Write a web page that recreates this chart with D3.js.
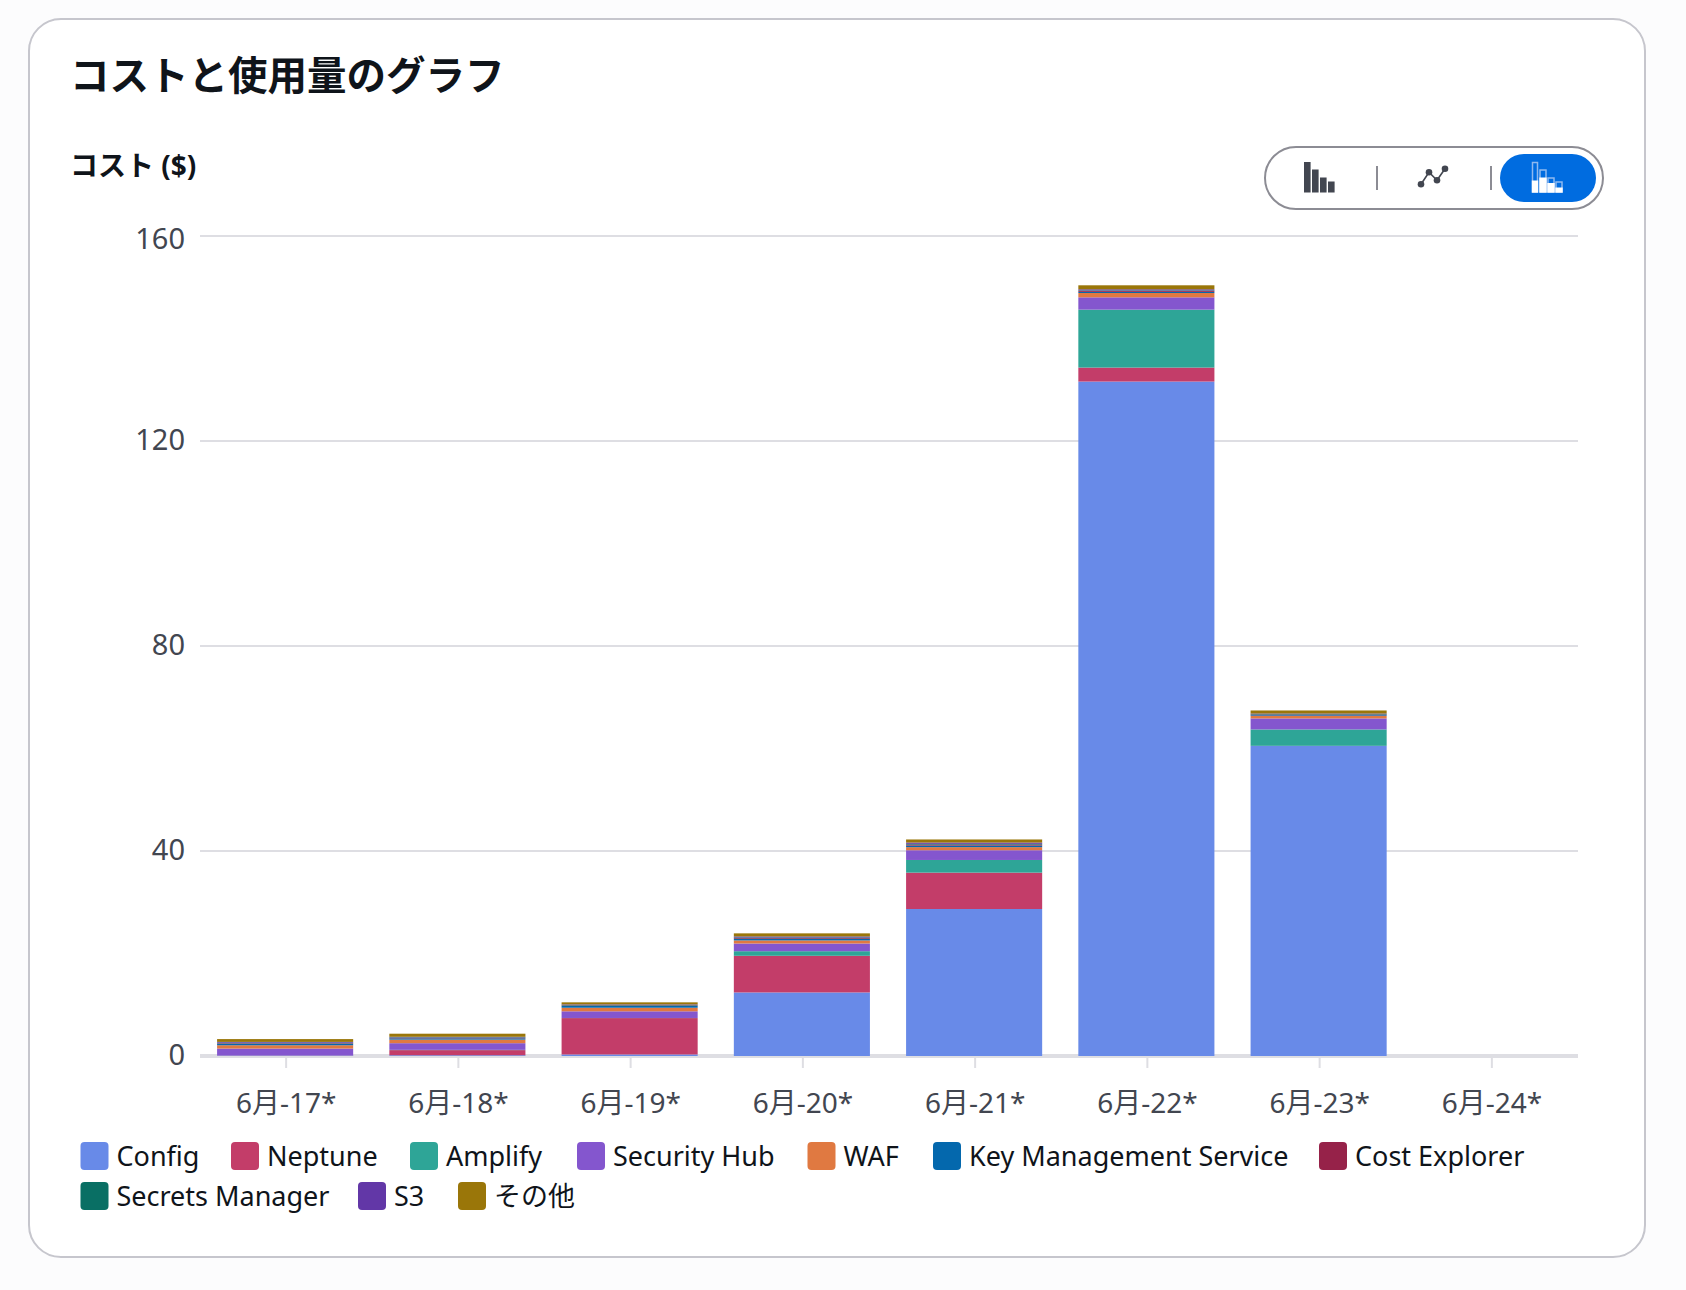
<!DOCTYPE html>
<html lang="ja">
<head>
<meta charset="utf-8">
<title>コストと使用量のグラフ</title>
<script src="https://cdn.jsdelivr.net/npm/d3@7"></script>
<style>
  html, body { margin: 0; padding: 0; background: #fcfcfd; }
  svg, svg text { font-family: "Noto Sans", "Noto Sans CJK JP", sans-serif; }
  svg { display: block; }
</style>
</head>
<body>
<svg id="chart" width="1686" height="1290"></svg>
<script>
// Daily cost per service, in dollars
const days = ["6月-17*", "6月-18*", "6月-19*", "6月-20*", "6月-21*", "6月-22*", "6月-23*", "6月-24*"];
const serviceNames = ["Config", "Neptune", "Amplify", "Security Hub", "WAF", "Key Management Service", "Cost Explorer", "Secrets Manager", "S3", "その他"];
const serviceColors = ["#688ae8", "#c33d69", "#2ea597", "#8456ce", "#e07941", "#0468ad", "#962249", "#096f64", "#6237a7", "#9a7609"];

const config = [0.05, 0.15, 0.3, 12.4, 28.68, 131.6, 60.5, 0];
const neptune = [0.02, 1.0, 7.1, 7.15, 7.1, 2.73, 0.02, 0];
const amplify = [0.02, 0.05, 0.02, 0.9, 2.47, 11.3, 3.2, 0];
const securityHub = [1.36, 1.3, 1.3, 1.5, 1.9, 2.4, 2.15, 0];
const waf = [0.65, 0.7, 0.7, 0.6, 0.6, 0.85, 0.5, 0];
const kms = [0.3, 0.25, 0.35, 0.3, 0.3, 0.22, 0.14, 0];
const costExplorer = [0.1, 0.1, 0.1, 0.15, 0.2, 0.2, 0.11, 0];
const secretsManager = [0.1, 0.1, 0.1, 0.13, 0.15, 0.1, 0.1, 0];
const s3 = [0.15, 0.1, 0.1, 0.2, 0.25, 0.2, 0.1, 0];
const other = [0.55, 0.6, 0.4, 0.6, 0.6, 0.78, 0.6, 0];

const serviceValues = [config, neptune, amplify, securityHub, waf, kms, costExplorer, secretsManager, s3, other];
const yTicks = [0, 40, 80, 120, 160];

const svg = d3.select("#chart");
const inkDark = "#0f141a", inkAxis = "#424650", ruleColor = "#dedee3";

// Card
svg.append("rect").attr("x", 29).attr("y", 19).attr("width", 1616).attr("height", 1238)
  .attr("rx", 32).attr("fill", "#ffffff").attr("stroke", "#c6c6cd").attr("stroke-width", 2);

svg.append("text").attr("x", 70).attr("y", 90).attr("font-size", 39.5).attr("font-weight", 700)
  .attr("fill", inkDark).text("コストと使用量のグラフ");
svg.append("text").attr("x", 70).attr("y", 176).attr("font-size", 28).attr("font-weight", 700)
  .attr("fill", inkDark).text("コスト ($)");

// Scales
const x = d3.scaleBand().domain(days).range([200, 1578]).paddingInner(0.21).paddingOuter(0.105);
const y = d3.scaleLinear().domain([0, 160]).range([1056, 236]);
const barNudge = -1;

// Horizontal grid and value labels; the top label stays inside the plot
const yAxis = svg.append("g").attr("transform", "translate(200,0)")
  .call(d3.axisLeft(y).offset(0).tickValues(yTicks).tickSize(-1378).tickPadding(15).tickFormat(d3.format("d")));
yAxis.attr("font-family", null);
yAxis.select(".domain").remove();
yAxis.selectAll(".tick line").attr("stroke", ruleColor).attr("stroke-width", 2);
yAxis.selectAll(".tick text").attr("font-size", 29)
  .attr("fill", inkAxis).attr("dy", d => d === 160 ? "0.44em" : "0.3em");

// Stacked bars
const rows = days.map((day, i) => {
  const row = { day };
  serviceNames.forEach((name, s) => { row[name] = serviceValues[s][i]; });
  return row;
});
const stacked = d3.stack().keys(serviceNames)(rows);
const color = d3.scaleOrdinal().domain(serviceNames).range(serviceColors);

// Baseline and day ticks sit beneath the bars
const xAxis = svg.append("g").attr("transform", `translate(0,${y(0)})`)
  .call(d3.axisBottom(x).offset(0).tickSizeOuter(0).tickSizeInner(12).tickPadding(25));
xAxis.attr("font-family", null);
xAxis.select(".domain").attr("stroke", ruleColor).attr("stroke-width", 4);
xAxis.selectAll(".tick line").attr("stroke", ruleColor).attr("stroke-width", 2);
xAxis.selectAll(".tick text").attr("font-size", 28).attr("fill", inkAxis);

svg.append("g").selectAll("g").data(stacked).join("g")
  .attr("fill", d => color(d.key))
  .selectAll("rect").data(d => d).join("rect")
  .attr("x", d => x(d.data.day) + barNudge)
  .attr("width", x.bandwidth())
  .attr("y", d => y(d[1]))
  .attr("height", d => y(d[0]) - y(d[1]));

// Legend, two rows
const legendLefts = [80.5, 231, 410, 577, 807.5, 933, 1319, 80.5, 358, 458];
const legendRows = [0, 0, 0, 0, 0, 0, 0, 1, 1, 1];
const legendItems = svg.append("g").selectAll("g").data(serviceNames).join("g")
  .attr("transform", (d, i) => `translate(${legendLefts[i]},${1156 + legendRows[i] * 40})`);
legendItems.append("rect").attr("y", -14).attr("width", 28).attr("height", 28)
  .attr("rx", 4).attr("fill", d => color(d));
legendItems.append("text").attr("x", 36).attr("dy", "0.36em")
  .attr("font-size", 27).attr("fill", inkDark).text(d => d);

// View switch: bars, lines, stacked bars
const sw = svg.append("g");
sw.append("rect").attr("x", 1265).attr("y", 147).attr("width", 338).attr("height", 62).attr("rx", 31)
  .attr("fill", "#ffffff").attr("stroke", "#8c8c94").attr("stroke-width", 2);
[1377, 1491].forEach(px => sw.append("line").attr("x1", px).attr("x2", px).attr("y1", 166).attr("y2", 190)
  .attr("stroke", "#8c8c94").attr("stroke-width", 2));
sw.append("rect").attr("x", 1500).attr("y", 154).attr("width", 96).attr("height", 48).attr("rx", 24).attr("fill", "#006ce0");

const iconBars = [[1304, 162], [1312, 169.5], [1320, 177.5], [1328, 181.5]];
sw.selectAll(".bar-icon").data(iconBars).join("rect").attr("class", "bar-icon")
  .attr("x", d => d[0]).attr("y", d => d[1]).attr("width", 6.6).attr("height", d => 192.5 - d[1]).attr("fill", "#424650");

const iconPoints = [[1421, 184.3], [1429, 172.3], [1437, 180.3], [1445, 168.7]];
sw.append("path").attr("d", d3.line()(iconPoints)).attr("fill", "none").attr("stroke", "#424650").attr("stroke-width", 1.6);
sw.selectAll(".dot-icon").data(iconPoints).join("circle").attr("class", "dot-icon")
  .attr("cx", d => d[0]).attr("cy", d => d[1]).attr("r", 3.3).attr("fill", "#424650");

const iconStacks = [[1532.5, 162.5, 5, 180.5], [1540, 170, 6, 177.5], [1548, 178, 6, 183], [1556, 182, 6, 187.5]];
iconStacks.forEach(([px, top, w, fillTop]) => {
  sw.append("rect").attr("x", px).attr("y", top).attr("width", w).attr("height", 192 - top)
    .attr("fill", "none").attr("stroke", "#8fb9ef").attr("stroke-width", 1.5);
  sw.append("rect").attr("x", px - 0.7).attr("y", fillTop).attr("width", w + 1.4).attr("height", 192.7 - fillTop).attr("fill", "#ffffff");
});
</script>
</body>
</html>
